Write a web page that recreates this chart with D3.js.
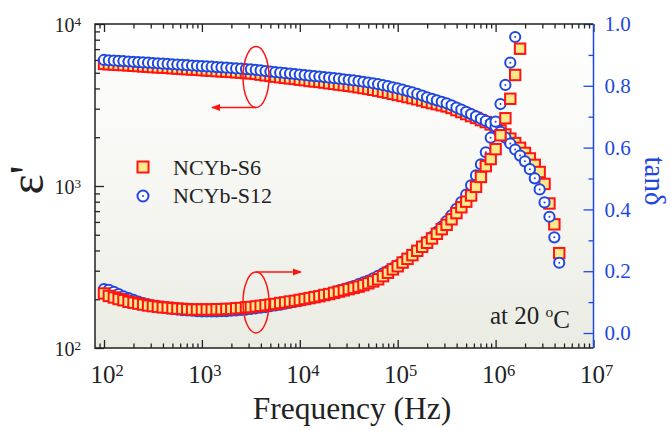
<!DOCTYPE html>
<html>
<head>
<meta charset="utf-8">
<script src="https://cdn.jsdelivr.net/npm/d3@7"></script>
<style>
  body { margin: 0; background: #fff; }
  svg { display: block; }
</style>
</head>
<body>
<svg id="chart" width="671" height="431"></svg>
<script>
// measurement frequencies (Hz)
const freq = [
  100, 112, 126, 141, 158, 178, 200, 224, 251, 282, 316, 355, 398, 447, 501, 562, 631, 708, 794, 891,
  1000, 1122, 1259, 1413, 1585, 1778, 1995, 2239, 2512, 2818, 3162, 3548, 3981, 4467, 5012, 5623, 6310, 7079, 7943, 8913,
  10000, 11220, 12590, 14130, 15850, 17780, 19950, 22390, 25120, 28180, 31620, 35480, 39810, 44670, 50120, 56230, 63100, 70790, 79430, 89130,
  100000, 112200, 125900, 141300, 158500, 177800, 199500, 223900, 251200, 281800, 316200, 354800, 398100, 446700, 501200, 562300, 631000, 707900, 794300, 891300,
  1000000, 1122000, 1259000, 1413000, 1585000, 1778000, 1995000, 2239000, 2512000, 2818000, 3162000, 3548000, 3981000, 4467000
];

// epsilon' (left axis)
const epsS6 = [
  5670, 5640, 5620, 5590, 5580, 5550, 5520, 5500, 5470, 5450,
  5420, 5400, 5380, 5360, 5330, 5310, 5280, 5260, 5240, 5220,
  5190, 5170, 5150, 5120, 5100, 5080, 5060, 5030, 5010, 4980,
  4960, 4920, 4870, 4820, 4780, 4730, 4690, 4650, 4610, 4580,
  4530, 4500, 4450, 4420, 4390, 4350, 4305, 4270, 4225, 4190,
  4155, 4115, 4070, 4020, 3975, 3925, 3875, 3820, 3765, 3705,
  3650, 3595, 3540, 3485, 3430, 3370, 3300, 3250, 3200, 3150,
  3100, 3030, 2940, 2860, 2780, 2700, 2630, 2550, 2480, 2400,
  2310, 2200, 2080, 1960, 1840, 1720, 1600, 1480, 1350, 1220,
  1030, 780, 580, 385
];
const epsS12 = [
  6000, 5970, 5950, 5920, 5900, 5870, 5840, 5820, 5790, 5770,
  5740, 5720, 5690, 5670, 5640, 5620, 5590, 5570, 5540, 5520,
  5490, 5470, 5450, 5420, 5400, 5375, 5350, 5320, 5300, 5270,
  5250, 5210, 5170, 5120, 5080, 5040, 5010, 4970, 4940, 4910,
  4870, 4840, 4800, 4770, 4740, 4700, 4665, 4630, 4595, 4560,
  4525, 4485, 4445, 4400, 4355, 4305, 4250, 4190, 4130, 4065,
  4000, 3930, 3855, 3780, 3700, 3620, 3530, 3450, 3380, 3310,
  3240, 3150, 3050, 2960, 2870, 2780, 2690, 2600, 2520, 2430,
  2330, 2160, 1990, 1830, 1680, 1540, 1420, 1270, 1115, 953,
  792, 646, 482, 336
];

// tan delta (right axis)
const tanS6 = [
  0.128, 0.120, 0.115, 0.110, 0.106, 0.101, 0.098, 0.095, 0.092, 0.089,
  0.087, 0.085, 0.083, 0.082, 0.080, 0.079, 0.078, 0.077, 0.076, 0.076,
  0.076, 0.076, 0.076, 0.077, 0.077, 0.078, 0.078, 0.080, 0.081, 0.083,
  0.084, 0.086, 0.088, 0.090, 0.092, 0.094, 0.097, 0.099, 0.102, 0.104,
  0.107, 0.110, 0.113, 0.116, 0.119, 0.123, 0.126, 0.130, 0.134, 0.138,
  0.142, 0.146, 0.150, 0.155, 0.161, 0.167, 0.174, 0.184, 0.195, 0.206,
  0.216, 0.228, 0.240, 0.252, 0.266, 0.279, 0.292, 0.306, 0.321, 0.336,
  0.350, 0.368, 0.388, 0.407, 0.425, 0.445, 0.473, 0.505, 0.540, 0.563,
  0.595, 0.640, 0.695, 0.758, 0.835, 0.920
];
const tanS12 = [
  0.142, 0.140, 0.133, 0.126, 0.119, 0.113, 0.107, 0.102, 0.097, 0.093,
  0.089, 0.086, 0.083, 0.080, 0.078, 0.076, 0.074, 0.073, 0.072, 0.071,
  0.070, 0.070, 0.070, 0.070, 0.071, 0.071, 0.072, 0.073, 0.075, 0.076,
  0.078, 0.080, 0.082, 0.084, 0.087, 0.089, 0.092, 0.095, 0.098, 0.101,
  0.104, 0.108, 0.111, 0.115, 0.119, 0.123, 0.127, 0.132, 0.137, 0.142,
  0.147, 0.152, 0.158, 0.164, 0.170, 0.177, 0.185, 0.193, 0.201, 0.210,
  0.220, 0.231, 0.242, 0.254, 0.267, 0.281, 0.296, 0.311, 0.327, 0.344,
  0.362, 0.381, 0.402, 0.424, 0.448, 0.478, 0.510, 0.546, 0.585, 0.632,
  0.684, 0.741, 0.803, 0.875, 0.958
];

const xTicks = [1e2, 1e3, 1e4, 1e5, 1e6, 1e7];
const yLeftTicks = [1e2, 1e3, 1e4];
const yRightTicks = [0, 0.2, 0.4, 0.6, 0.8, 1.0];
const yRightMinor = [0.1, 0.3, 0.5, 0.7, 0.9];
const seriesNames = ["NCYb-S6", "NCYb-S12"];

const RED = "#ff1414", YELLOW = "#fde98a", BLUE = "#1f48e0", INK = "#222";
const FONT = "Liberation Serif";

const drawChart = () => {
  const svg = d3.select("#chart");
  const L = 95, R = 593.5, T = 24, B = 348;

  const x = d3.scaleLog().domain([80.9, 1e7]).range([L, R]);
  const yL = d3.scaleLog().domain([100, 1e4]).range([B, T]);
  const yR = d3.scaleLinear().domain([-0.0485, 1.0]).range([B, T]);

  const isPow = d => Math.abs(Math.log10(d) - Math.round(Math.log10(d))) < 1e-6;
  const xMinor = x.ticks().filter(d => !isPow(d));
  const yMinor = yL.ticks().filter(d => !isPow(d));

  // background
  const grad = svg.append("defs").append("linearGradient")
      .attr("id", "bg").attr("x1", 0).attr("y1", 0).attr("x2", 0).attr("y2", 1);
  grad.append("stop").attr("offset", "0%").attr("stop-color", "#ffffff");
  grad.append("stop").attr("offset", "45%").attr("stop-color", "#f7f8f4");
  grad.append("stop").attr("offset", "100%").attr("stop-color", "#eaece3");

  svg.append("rect")
      .attr("x", L).attr("y", T).attr("width", R - L).attr("height", B - T)
      .attr("fill", "url(#bg)");

  // ticks (inward)
  const tickG = (axis, tr, color) => svg.append("g")
      .attr("transform", tr)
      .style("color", color)
      .call(axis)
      .call(g => g.select(".domain").remove())
      .selectAll("line").attr("stroke-width", 1.3);

  tickG(d3.axisBottom(x).tickValues(xTicks).tickSize(-8).tickFormat(""), `translate(0,${B})`, INK);
  tickG(d3.axisBottom(x).tickValues(xMinor).tickSize(-4.5).tickFormat(""), `translate(0,${B})`, INK);
  tickG(d3.axisTop(x).tickValues(xTicks).tickSize(-8).tickFormat(""), `translate(0,${T})`, INK);
  tickG(d3.axisTop(x).tickValues(xMinor).tickSize(-4.5).tickFormat(""), `translate(0,${T})`, INK);
  tickG(d3.axisLeft(yL).tickValues(yLeftTicks).tickSize(-9).tickFormat(""), `translate(${L},0)`, INK);
  tickG(d3.axisLeft(yL).tickValues(yMinor).tickSize(-5).tickFormat(""), `translate(${L},0)`, INK);
  tickG(d3.axisRight(yR).tickValues(yRightMinor).tickSize(-5).tickFormat(""), `translate(${R},0)`, BLUE);

  svg.append("g")
      .attr("transform", `translate(${R},0)`)
      .style("color", BLUE)
      .call(d3.axisRight(yR).tickValues(yRightTicks).tickSize(-10).tickPadding(11).tickFormat(d3.format(".1f")))
      .call(g => g.select(".domain").remove())
      .call(g => g.selectAll("line").attr("stroke-width", 1.3))
      .call(g => g.selectAll("text").attr("dy", "0.32em").attr("font-size", 21));

  // frame
  svg.append("path")
      .attr("d", `M${R},${T}H${L}V${B}H${R}`)
      .attr("fill", "none").attr("stroke", INK).attr("stroke-width", 1.5);
  svg.append("line")
      .attr("x1", R).attr("x2", R).attr("y1", T).attr("y2", B)
      .attr("stroke", BLUE).attr("stroke-width", 1.5);

  // tick labels with superscripts
  const powLabel = (sel, d) => {
    sel.append("tspan").text("10");
    sel.append("tspan").attr("dy", "-0.42em").attr("font-size", "0.66em").text(Math.round(Math.log10(d)));
  };

  svg.append("g").selectAll("text").data(xTicks).join("text")
      .attr("x", d => x(d) + 3).attr("y", 383)
      .attr("text-anchor", "middle").attr("font-size", 25).attr("fill", INK)
      .each(function(d) { powLabel(d3.select(this), d); });

  svg.append("g").selectAll("text").data(yLeftTicks).join("text")
      .attr("x", 81).attr("y", d => yL(d) + 8)
      .attr("text-anchor", "end").attr("font-size", 20).attr("fill", INK)
      .each(function(d) { powLabel(d3.select(this), d); });

  // axis titles
  svg.append("text")
      .attr("x", 352).attr("y", 419)
      .attr("text-anchor", "middle").attr("font-size", 31.5).attr("fill", INK)
      .text("Frequency (Hz)");

  svg.append("text")
      .attr("transform", "translate(43,180) rotate(-90)")
      .attr("text-anchor", "middle").attr("font-size", 48).attr("fill", INK)
      .text("ε'");

  svg.append("text")
      .attr("transform", "translate(645,181) rotate(90)")
      .attr("text-anchor", "middle").attr("font-size", 29).attr("fill", BLUE)
      .text("tanδ");

  // markers
  const squares = (vals, ys) => svg.append("g").selectAll("rect").data(vals).join("rect")
      .attr("x", (d, i) => x(freq[i]) - 5.2).attr("y", d => ys(d) - 5.2)
      .attr("width", 10.4).attr("height", 10.4)
      .attr("fill", YELLOW).attr("stroke", RED).attr("stroke-width", 2);

  const circles = (vals, ys) => {
    const g = svg.append("g").selectAll("g").data(vals).join("g")
        .attr("transform", (d, i) => `translate(${x(freq[i])},${ys(d)})`);
    g.append("circle").attr("r", 5.1).attr("fill", "#fff").attr("stroke", BLUE).attr("stroke-width", 2);
    g.append("circle").attr("r", 1).attr("fill", BLUE);
  };

  squares(epsS6, yL);
  circles(epsS12, yL);
  circles(tanS12, yR);
  squares(tanS6, yR);

  // ellipses + arrows
  svg.append("defs").append("marker")
      .attr("id", "arr").attr("viewBox", "0 0 10 10").attr("refX", 9).attr("refY", 5)
      .attr("markerWidth", 9).attr("markerHeight", 9).attr("markerUnits", "userSpaceOnUse")
      .attr("orient", "auto")
      .append("path").attr("d", "M0,1L10,5L0,9Z").attr("fill", RED);

  const loop = (cx, cy, ay, ax2) => {
    svg.append("ellipse")
        .attr("cx", cx).attr("cy", cy).attr("rx", 13).attr("ry", 30.5)
        .attr("fill", "none").attr("stroke", RED).attr("stroke-width", 1.5);
    svg.append("line")
        .attr("x1", cx).attr("y1", ay).attr("x2", ax2).attr("y2", ay)
        .attr("stroke", RED).attr("stroke-width", 1.3).attr("marker-end", "url(#arr)");
  };
  loop(256, 77, 107.5, 212);
  loop(256, 302.5, 272, 301);

  // legend
  const lg = svg.append("g");
  lg.append("rect").attr("x", 137.5).attr("y", 161.5).attr("width", 11).attr("height", 11)
      .attr("fill", YELLOW).attr("stroke", RED).attr("stroke-width", 2);
  lg.append("circle").attr("cx", 143).attr("cy", 196).attr("r", 5.5)
      .attr("fill", "#fff").attr("stroke", BLUE).attr("stroke-width", 2);
  lg.append("circle").attr("cx", 143).attr("cy", 196).attr("r", 1).attr("fill", BLUE);
  lg.selectAll("text").data(seriesNames).join("text")
      .attr("x", 173).attr("y", (d, i) => i ? 203 : 175)
      .attr("font-size", 22).attr("fill", INK)
      .text(d => d);

  // temperature note
  const note = svg.append("text")
      .attr("x", 490).attr("y", 324).attr("font-size", 25).attr("fill", INK);
  note.append("tspan").text("at 20 ");
  note.append("tspan").attr("dy", "-0.45em").attr("font-size", "0.62em").text("o");
  note.append("tspan").attr("dy", "0.45em").text("C");

  // serif everywhere
  svg.selectAll("text").style("font-family", FONT);
};

drawChart();
</script>
</body>
</html>
